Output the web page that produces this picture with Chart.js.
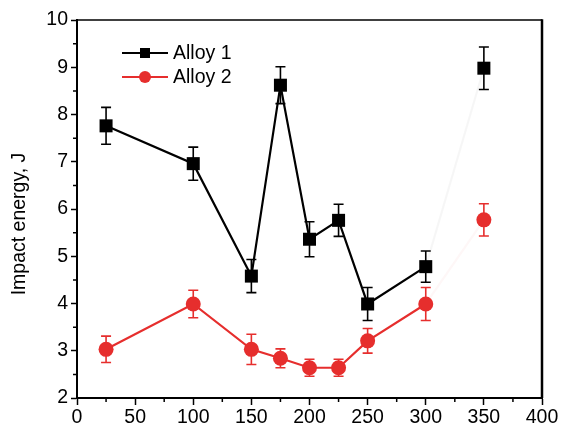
<!DOCTYPE html>
<html>
<head>
<meta charset="utf-8">
<script src="https://cdn.jsdelivr.net/npm/chart.js@4/dist/chart.umd.min.js"></script>
<style>
  html, body { margin: 0; padding: 0; background: #fff; }
  #wrap { width: 561px; height: 428px; }
</style>
</head>
<body>
<div id="wrap"><canvas id="impactChart" width="561" height="428"></canvas></div>
<script>
const temps = [25, 100, 150, 175, 200, 225, 250, 300, 350];
const alloy1 = [7.76, 6.96, 4.58, 8.62, 5.36, 5.76, 3.99, 4.78, 8.98];
const alloy1Err = [0.39, 0.35, 0.35, 0.39, 0.37, 0.34, 0.35, 0.33, 0.45];
const alloy2 = [3.03, 3.99, 3.03, 2.84, 2.64, 2.64, 3.21, 3.99, 5.77];
const alloy2Err = [0.28, 0.29, 0.32, 0.2, 0.18, 0.18, 0.26, 0.35, 0.34];
const xTicks = [0, 50, 100, 150, 200, 250, 300, 350, 400];
const yTicks = [2, 3, 4, 5, 6, 7, 8, 9, 10];
const seriesNames = ["Alloy 1", "Alloy 2"];

const BLACK = "#000000";
const RED = "#e62e2d";
const FONT = "'Liberation Sans', Arial, sans-serif";

const toPoints = (vals) => vals.map((v, i) => ({ x: temps[i], y: v }));

// error bars + minor ticks + frame + legend + y title
const extrasPlugin = {
    id: "extras",
    beforeDatasetsDraw(chart) {
        const ctx = chart.ctx;
        const xs = chart.scales.x, ys = chart.scales.y;
        const errs = [alloy1Err, alloy2Err];
        chart.data.datasets.forEach((ds, di) => {
            ctx.save();
            ctx.strokeStyle = ds.borderColor;
            ctx.lineWidth = 1.6;
            ds.data.forEach((p, i) => {
                const e = errs[di][i];
                const px = xs.getPixelForValue(p.x);
                const top = ys.getPixelForValue(p.y + e);
                const bot = ys.getPixelForValue(p.y - e);
                ctx.beginPath();
                ctx.moveTo(px, top); ctx.lineTo(px, bot);
                ctx.moveTo(px - 5, top); ctx.lineTo(px + 5, top);
                ctx.moveTo(px - 5, bot); ctx.lineTo(px + 5, bot);
                ctx.stroke();
            });
            ctx.restore();
        });
    },
    afterDraw(chart) {
        const ctx = chart.ctx;
        const a = chart.chartArea;
        const xs = chart.scales.x, ys = chart.scales.y;
        ctx.save();
        ctx.strokeStyle = BLACK;
        // minor ticks
        ctx.lineWidth = 1.5;
        ctx.beginPath();
        for (let v = 25; v < 400; v += 50) {
            const px = xs.getPixelForValue(v);
            ctx.moveTo(px, a.bottom); ctx.lineTo(px, a.bottom + 4);
        }
        for (let v = 2.5; v < 10; v += 1) {
            const py = ys.getPixelForValue(v);
            ctx.moveTo(a.left, py); ctx.lineTo(a.left - 4, py);
        }
        ctx.stroke();
        // frame top and right
        ctx.lineWidth = 1.5;
        ctx.beginPath();
        ctx.moveTo(a.left, a.top); ctx.lineTo(a.right, a.top);
        ctx.stroke();
        ctx.lineWidth = 2.5;
        ctx.beginPath();
        ctx.moveTo(a.right, a.top - 0.75); ctx.lineTo(a.right, a.bottom);
        ctx.stroke();

        // legend
        const rows = [
            { name: seriesNames[0], color: BLACK, style: "rect", y: 53 },
            { name: seriesNames[1], color: RED, style: "circle", y: 77 }
        ];
        ctx.font = "19.5px " + FONT;
        ctx.textBaseline = "middle";
        rows.forEach(r => {
            ctx.strokeStyle = r.color;
            ctx.fillStyle = r.color;
            ctx.lineWidth = 2;
            ctx.beginPath();
            ctx.moveTo(122, r.y); ctx.lineTo(168, r.y);
            ctx.stroke();
            ctx.beginPath();
            if (r.style === "rect") {
                ctx.rect(145 - 5, r.y - 5, 10, 10);
            } else {
                ctx.arc(145, r.y, 6, 0, Math.PI * 2);
            }
            ctx.fill();
            ctx.fillStyle = BLACK;
            ctx.textAlign = "left";
            ctx.fillText(r.name, 173, r.y + 1);
        });

        // y axis title
        ctx.font = "19.5px " + FONT;
        ctx.translate(20, 224);
        ctx.rotate(-Math.PI / 2);
        ctx.textAlign = "center";
        ctx.fillStyle = BLACK;
        ctx.fillText("Impact energy, J", 0, 0);
        ctx.restore();
    }
};

const faint = (col) => (c) => c.p0.parsed.x === 300 ? col : undefined;

new Chart(document.getElementById("impactChart"), {
    type: "line",
    data: {
        datasets: [
            {
                label: seriesNames[0],
                data: toPoints(alloy1),
                borderColor: BLACK,
                backgroundColor: BLACK,
                borderWidth: 2.2,
                pointStyle: "rect",
                pointRadius: 9.2,
                pointHoverRadius: 9.2,
                pointBorderWidth: 0,
                segment: { borderColor: faint("rgba(0,0,0,0.035)") }
            },
            {
                label: seriesNames[1],
                data: toPoints(alloy2),
                borderColor: RED,
                backgroundColor: RED,
                borderWidth: 2.2,
                pointStyle: "circle",
                pointRadius: 7.5,
                pointHoverRadius: 7.5,
                pointBorderWidth: 0,
                segment: { borderColor: faint("rgba(230,46,45,0.04)") }
            }
        ]
    },
    options: {
        responsive: false,
        animation: false,
        devicePixelRatio: 1,
        layout: { padding: { top: 20, right: 19, left: 0, bottom: 0 } },
        plugins: { legend: { display: false }, tooltip: { enabled: false } },
        scales: {
            x: {
                type: "linear",
                min: 0,
                max: 400,
                afterFit: (s) => { s.height = 30; },
                afterBuildTicks: (s) => { s.ticks = xTicks.map(v => ({ value: v })); },
                ticks: { color: BLACK, font: { size: 19.5, family: FONT }, padding: 1, maxRotation: 0 },
                grid: { drawOnChartArea: false, tickLength: 7, color: BLACK, tickWidth: 1.5 },
                border: { color: BLACK, width: 2 }
            },
            y: {
                type: "linear",
                min: 2,
                max: 10,
                afterFit: (s) => { s.width = 77; },
                afterBuildTicks: (s) => { s.ticks = yTicks.map(v => ({ value: v })); },
                ticks: { color: BLACK, font: { size: 19.5, family: FONT }, padding: 3 },
                grid: { drawOnChartArea: false, tickLength: 6, color: BLACK, tickWidth: 1.5 },
                border: { color: BLACK, width: 2 }
            }
        }
    },
    plugins: [extrasPlugin]
});
</script>
</body>
</html>
